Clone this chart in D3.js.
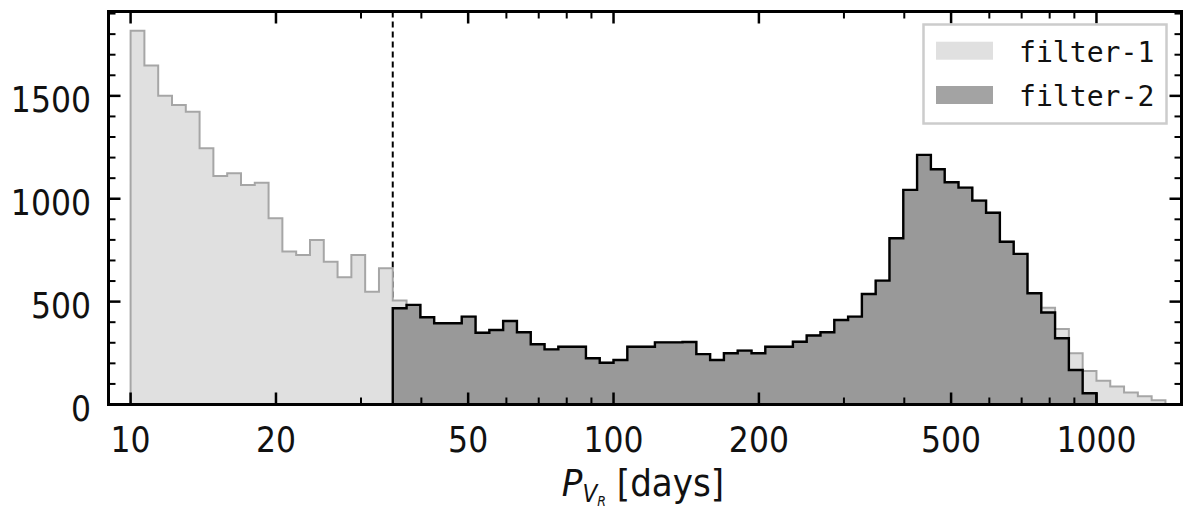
<!DOCTYPE html>
<html><head><meta charset="utf-8">
<script src="https://cdn.jsdelivr.net/npm/d3@7"></script>
<style>html,body{margin:0;padding:0;background:#fff;} svg{display:block;}</style>
</head><body><svg id="c" width="1200" height="515"></svg>
<script>
// ---- data ----
const binStart = 10;          // first bin edge [days]
const binsPerDecade = 35;     // log-spaced histogram bins
const seriesNames = ["filter-1", "filter-2"];
const filter1Counts = [1817,1647,1501,1456,1423,1245,1111,1124,1067,1078,905,743,727,800,694,618,727,548,662,505,
  484,424,395,395,427,349,362,406,351,293,268,281,281,225,203,216,281,281,302,302,304,245,216,249,262,249,281,281,305,335,351,411,427,537,602,808,1043,1213,1143,1080,1054,991,932,791,732,541,
  470,367,249,163,116,88,58,40,21];
const filter2StartBin = 19;
const filter2Counts = [468,484,424,395,395,427,349,362,406,351,293,268,281,281,225,203,216,281,281,302,302,304,245,216,249,262,249,281,281,305,335,351,411,427,537,602,808,1043,1213,1143,1080,1054,991,932,791,732,541,447,322,168,55];
const cutoffPeriod = 34.9;
const xTickLabels = [10, 20, 50, 100, 200, 500, 1000];
const xMinorTicks = [30, 40, 60, 70, 80, 90, 300, 400, 600, 700, 800, 900];
const yTickLabels = [0, 500, 1000, 1500];
const yMinorTicks = [100,200,300,400,600,700,800,900,1100,1200,1300,1400,1600,1700,1800,1900];
const xDomain = [9, 1500];
const yDomain = [0, 1910];
const xLabel = {main: "P", sub: "V", subsub: "R", rest: " [days]"};

// ---- layout ----
const L = 108.5, R = 1181.5, T = 11.5, B = 404.5;
const svg = d3.select("#c");
const x = d3.scaleLog().domain(xDomain).range([L, R]);
const y = d3.scaleLinear().domain(yDomain).range([B, T]);
const edge = k => binStart * Math.pow(10, k / binsPerDecade);

function histPoints(counts, start) {
  const pts = [[edge(start), 0]];
  counts.forEach((c, i) => { pts.push([edge(start + i), c]); pts.push([edge(start + i + 1), c]); });
  pts.push([edge(start + counts.length), 0]);
  return pts;
}
const line = d3.line().x(d => x(d[0])).y(d => y(d[1]));
const area = d3.area().x(d => x(d[0])).y0(y(0)).y1(d => y(d[1]));

svg.append("clipPath").attr("id", "pc").append("rect")
  .attr("x", L).attr("y", T).attr("width", R - L).attr("height", B - T);
const plot = svg.append("g").attr("clip-path", "url(#pc)");

// dashed cutoff line (behind histograms)
plot.append("line").attr("x1", x(cutoffPeriod)).attr("x2", x(cutoffPeriod))
  .attr("y1", y(yDomain[1])).attr("y2", y(0))
  .attr("stroke", "#000").attr("stroke-width", 2).attr("stroke-dasharray", "6,4");

const p1 = histPoints(filter1Counts, 0);
const p2 = histPoints(filter2Counts, filter2StartBin);
plot.append("path").attr("d", area(p1)).attr("fill", "#e0e0e0");
plot.append("path").attr("d", line(p1)).attr("fill", "none").attr("stroke", "#a6a6a6").attr("stroke-width", 2);
plot.append("path").attr("d", area(p2)).attr("fill", "#999999");
plot.append("path").attr("d", line(p2)).attr("fill", "none").attr("stroke", "#000").attr("stroke-width", 2.4);

// ticks (inward, all sides)
const tk = svg.append("g").attr("stroke", "#000");
const majL = 12, minL = 7;
xTickLabels.forEach(v => {
  const px = x(v);
  tk.append("line").attr("x1", px).attr("x2", px).attr("y1", B).attr("y2", B - majL).attr("stroke-width", 2.5);
  tk.append("line").attr("x1", px).attr("x2", px).attr("y1", T).attr("y2", T + majL).attr("stroke-width", 2.5);
});
xMinorTicks.forEach(v => {
  const px = x(v);
  tk.append("line").attr("x1", px).attr("x2", px).attr("y1", B).attr("y2", B - minL).attr("stroke-width", 2);
  tk.append("line").attr("x1", px).attr("x2", px).attr("y1", T).attr("y2", T + minL).attr("stroke-width", 2);
});
yTickLabels.forEach(v => {
  const py = y(v);
  tk.append("line").attr("x1", L).attr("x2", L + majL).attr("y1", py).attr("y2", py).attr("stroke-width", 2.5);
  tk.append("line").attr("x1", R).attr("x2", R - majL).attr("y1", py).attr("y2", py).attr("stroke-width", 2.5);
});
yMinorTicks.forEach(v => {
  const py = y(v);
  tk.append("line").attr("x1", L).attr("x2", L + minL).attr("y1", py).attr("y2", py).attr("stroke-width", 2);
  tk.append("line").attr("x1", R).attr("x2", R - minL).attr("y1", py).attr("y2", py).attr("stroke-width", 2);
});

// frame
svg.append("rect").attr("x", L).attr("y", T).attr("width", R - L).attr("height", B - T)
  .attr("fill", "none").attr("stroke", "#000").attr("stroke-width", 3);

// tick labels
const FS = 35, SX = 0.9;
const font = "DejaVu Sans, sans-serif";
const txtColor = "#111";
xTickLabels.forEach(v => {
  svg.append("g").attr("transform", `translate(${x(v)},452)`)
    .append("text").attr("transform", `scale(${SX},1)`).attr("text-anchor", "middle")
    .attr("font-family", font).attr("font-size", FS).attr("fill", txtColor).text(v);
});
yTickLabels.forEach(v => {
  svg.append("g").attr("transform", `translate(91,${y(v) + 16})`)
    .append("text").attr("transform", `scale(${SX},1)`).attr("text-anchor", "end")
    .attr("font-family", font).attr("font-size", FS).attr("fill", txtColor).text(v);
});

// x label
const xl = svg.append("g").attr("transform", `translate(643,496)`)
  .append("text").attr("transform", `scale(${SX},1)`).attr("text-anchor", "middle")
  .attr("font-family", font).attr("font-size", 38).attr("fill", txtColor);
xl.append("tspan").attr("font-style", "italic").text(xLabel.main);
xl.append("tspan").attr("font-style", "italic").attr("font-size", 24).attr("dy", 6).text(xLabel.sub);
xl.append("tspan").attr("font-style", "italic").attr("font-size", 14).attr("dy", 4).text(xLabel.subsub);
xl.append("tspan").attr("dy", -10).text(xLabel.rest);

// legend
const lg = svg.append("g");
lg.append("rect").attr("x", 923.5).attr("y", 24.5).attr("width", 243).attr("height", 99)
  .attr("fill", "#fff").attr("stroke", "#cccccc").attr("stroke-width", 2.5);
const legColors = ["#e0e0e0", "#a3a3a3"];
seriesNames.forEach((s, i) => {
  const yy = 41.7 + i * 44.3;
  lg.append("rect").attr("x", 936).attr("y", yy).attr("width", 57).attr("height", 18).attr("fill", legColors[i]);
  lg.append("g").attr("transform", `translate(1019,${yy + 20})`)
    .append("text").attr("transform", "scale(0.97,1)")
    .attr("font-family", "DejaVu Sans Mono, monospace").attr("font-size", 29).attr("fill", txtColor).text(s);
});
</script></body></html>
